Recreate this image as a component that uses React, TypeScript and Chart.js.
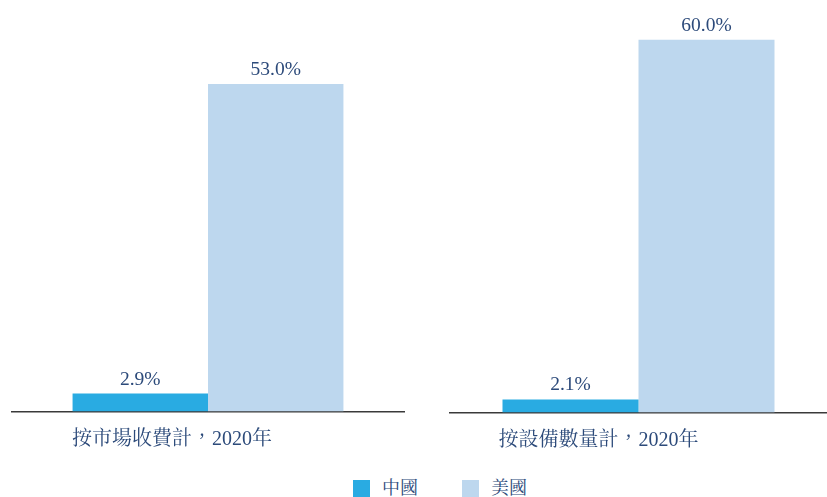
import React, { useEffect, useRef } from "react";
import { Chart, registerables } from "chart.js";

Chart.register(...registerables);

const seriesNames = ["中國", "美國"];
const seriesColors = ["#29ABE2", "#BDD7EE"];
const leftCategory = ["按市場收費計，2020年"];
const rightCategory = ["按設備數量計，2020年"];
const leftValues = [2.9, 53.0];
const rightValues = [2.1, 60.0];

const TEXT = "#2C4A7A";
const FONT = '"Liberation Serif", "Noto Serif CJK TC", "Noto Sans CJK TC", serif';

const valueLabels = {
  id: "valueLabels",
  afterDatasetsDraw(chart: any) {
    const ctx = chart.ctx;
    ctx.save();
    ctx.fillStyle = TEXT;
    ctx.font = `19.5px ${FONT}`;
    ctx.textAlign = "center";
    ctx.textBaseline = "alphabetic";
    chart.data.datasets.forEach((ds: any, i: number) => {
      const meta = chart.getDatasetMeta(i);
      meta.data.forEach((bar: any, j: number) => {
        ctx.fillText(ds.data[j].toFixed(1) + "%", bar.x, bar.y - 9);
      });
    });
    ctx.restore();
  },
};

function makeConfig(
  labels: string[],
  values: number[],
  yMax: number,
  catPct: number,
  axisHeight: number,
  padLeft: number,
  padRight: number,
  labelOffset: number
): any {
  return {
    type: "bar",
    data: {
      labels,
      datasets: seriesNames.map((name, i) => ({
        label: name,
        data: [values[i]],
        backgroundColor: seriesColors[i],
        borderWidth: 0,
        barPercentage: 1,
        categoryPercentage: catPct,
      })),
    },
    options: {
      animation: false,
      responsive: false,
      maintainAspectRatio: false,
      layout: { padding: { left: padLeft, right: padRight, top: 0, bottom: 0 } },
      plugins: {
        legend: { display: false },
        tooltip: { enabled: false },
      },
      scales: {
        x: {
          grid: { display: false, drawTicks: false },
          border: { display: true, color: "#3A3A3A", width: 1.5 },
          ticks: {
            color: TEXT,
            font: { family: FONT, size: 20 },
            padding: 16,
            labelOffset,
          },
          afterFit: (scale: any) => {
            scale.height = axisHeight;
          },
        },
        y: {
          display: false,
          min: 0,
          max: yMax,
        },
      },
    },
    plugins: [valueLabels],
  };
}

function Panel(props: { left: number; width: number; height: number; config: any }) {
  const ref = useRef<HTMLCanvasElement>(null);
  useEffect(() => {
    const chart = new Chart(ref.current as HTMLCanvasElement, props.config);
    return () => chart.destroy();
  }, []);
  return (
    <canvas
      ref={ref}
      width={props.width}
      height={props.height}
      style={{ position: "absolute", left: props.left, top: 0, width: props.width, height: props.height }}
    />
  );
}

export default function App() {
  useEffect(() => {
    document.body.style.margin = "0";
  }, []);
  const H = 470;
  const leftCfg = makeConfig(leftCategory, leftValues, 66.6, 0.691, H - 411.5, 12, 16, -36);
  const rightCfg = makeConfig(rightCategory, rightValues, 66.4, 0.7215, H - 412.5, 30, 0, -40);
  return (
    <div style={{ position: "fixed", left: 0, top: 0, width: 827, height: 497, background: "#fff", overflow: "hidden" }}>
      <Panel left={0} width={420} height={H} config={leftCfg} />
      <Panel left={420} width={407} height={H} config={rightCfg} />
      <div style={{ position: "absolute", top: 477, left: 353, display: "flex", alignItems: "center", fontFamily: FONT, fontSize: 18, color: TEXT }}>
        {seriesNames.map((n, i) => (
          <div key={n} style={{ display: "flex", alignItems: "center", marginRight: i === 0 ? 44 : 0 }}>
            <span style={{ display: "inline-block", width: 17, height: 17, background: seriesColors[i], marginRight: 12 }} />
            <span style={{ lineHeight: "22px" }}>{n}</span>
          </div>
        ))}
      </div>
    </div>
  );
}
